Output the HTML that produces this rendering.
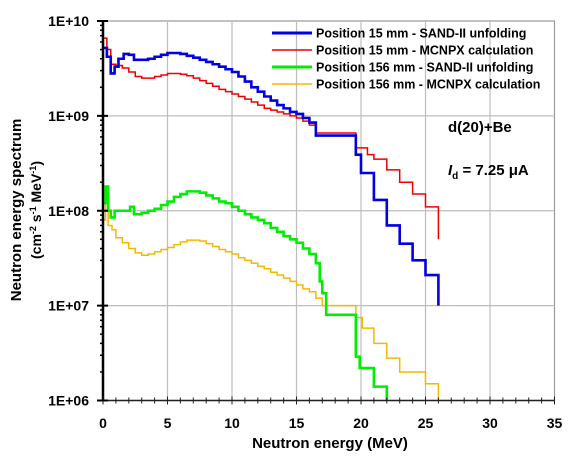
<!DOCTYPE html>
<html><head><meta charset="utf-8"><style>
html,body{margin:0;padding:0;background:#fff;}
svg{display:block;font-family:"Liberation Sans",sans-serif;font-weight:bold;}
</style></head><body>
<svg id="chart" width="574" height="462" viewBox="0 0 574 462">
<g id="grid"></g>
<g id="series"></g>
<g id="axes"></g>
<g font-size="12.5" fill="#000">
  <line x1="272" y1="33" x2="312" y2="33" stroke="#0000e0" stroke-width="3"/>
  <text x="316" y="37.5">Position 15 mm - SAND-II unfolding</text>
  <line x1="272" y1="50" x2="312" y2="50" stroke="#ee0000" stroke-width="1.5"/>
  <text x="316" y="54.5">Position 15 mm - MCNPX calculation</text>
  <line x1="272" y1="67" x2="312" y2="67" stroke="#00ee00" stroke-width="3"/>
  <text x="316" y="71.5">Position 156 mm - SAND-II unfolding</text>
  <line x1="272" y1="84" x2="312" y2="84" stroke="#f5b800" stroke-width="1.5"/>
  <text x="316" y="88.5">Position 156 mm - MCNPX calculation</text>
</g>
<text x="448" y="132" font-size="15">d(20)+Be</text>
<text x="448" y="175" font-size="15"><tspan font-style="italic">I</tspan><tspan font-size="10" dy="4">d</tspan><tspan dy="-4"> = 7.25 μA</tspan></text>
<text x="330" y="448" font-size="15" text-anchor="middle">Neutron energy  (MeV)</text>
<text transform="translate(21,210) rotate(-90)" font-size="15" text-anchor="middle">Neutron energy spectrum</text>
<text transform="translate(41,210) rotate(-90)" font-size="14" text-anchor="middle">(cm<tspan font-size="9" dy="-5">-2</tspan><tspan dy="5"> s</tspan><tspan font-size="9" dy="-5">-1</tspan><tspan dy="5"> MeV</tspan><tspan font-size="9" dy="-5">-1</tspan><tspan dy="5">)</tspan></text>
</svg>
<script>
const xTicks=[0,5,10,15,20,25,30,35];
const yTicks=[1e6,1e7,1e8,1e9,1e10];
const yTickLabels=["1E+06","1E+07","1E+08","1E+09","1E+10"];
const blueE=[0,0.3,0.6,0.9,1.2,1.6,2.0,2.4,3,3.5,4,4.5,5,6,6.5,7,7.5,8,8.5,9,9.5,10,10.5,11,11.5,12,12.5,13,13.5,14,14.5,15,15.5,16,16.5,19.6,20,21,22,23,24,25,26];
const blueV=[5.2e9,4.2e9,2.8e9,3.3e9,4.0e9,4.5e9,4.4e9,3.9e9,3.9e9,4.0e9,4.2e9,4.4e9,4.6e9,4.5e9,4.3e9,4.1e9,3.9e9,3.7e9,3.5e9,3.3e9,3.1e9,2.9e9,2.6e9,2.3e9,2.0e9,1.8e9,1.6e9,1.45e9,1.3e9,1.2e9,1.1e9,1.05e9,0.95e9,0.85e9,6.2e8,3.9e8,2.5e8,1.3e8,7e7,4.5e7,3e7,2.1e7,1e7];
const redE=[0,0.3,0.6,1,1.5,2,2.5,3,4,4.5,5,6,6.5,7,7.5,8,8.5,9,9.5,10,10.5,11,11.5,12,12.5,13,13.5,14,14.5,15,15.5,16,16.5,19.6,20.5,21,22,23,24,25,26];
const redV=[6.6e9,5e9,3.5e9,3.4e9,3.2e9,2.9e9,2.6e9,2.5e9,2.6e9,2.7e9,2.8e9,2.75e9,2.65e9,2.5e9,2.35e9,2.2e9,2.05e9,1.9e9,1.8e9,1.7e9,1.6e9,1.5e9,1.4e9,1.3e9,1.2e9,1.15e9,1.1e9,1.05e9,1.0e9,0.95e9,0.88e9,0.8e9,6.6e8,4.6e8,3.9e8,3.5e8,2.7e8,2.0e8,1.5e8,1.1e8,5e7];
const greenE=[0,0.2,0.4,0.6,0.9,1.5,2.1,2.4,3,3.5,4,4.5,5,5.5,6,6.5,7.5,8,8.5,9,9.5,10,10.5,11,11.5,12,12.5,13,13.5,14,14.5,15,15.5,16,16.5,16.8,17.0,17.3,19.6,19.9,21,22];
const greenV=[1.2e8,1.8e8,1.0e8,8.5e7,1.0e8,1.0e8,1.1e8,9.2e7,9.5e7,1.0e8,1.05e8,1.15e8,1.25e8,1.4e8,1.5e8,1.6e8,1.55e8,1.45e8,1.35e8,1.25e8,1.2e8,1.1e8,1.0e8,9.2e7,8.5e7,8e7,7.4e7,6.6e7,6e7,5.4e7,5e7,4.6e7,4e7,3.5e7,2.8e7,1.8e7,1.35e7,8e6,2.9e6,2.2e6,1.4e6,1e6];
const orangeE=[0,0.2,0.4,0.7,1,1.5,2,2.5,3,3.5,4,4.5,5,5.5,6,6.5,7.5,8,8.5,9,9.5,10,10.5,11,11.5,12,12.5,13,13.5,14,14.5,15,15.5,16,16.5,17,19.6,20.1,21,22,23,25,26];
const orangeV=[8e7,1.2e8,7e7,6.3e7,5.2e7,4.6e7,4e7,3.6e7,3.4e7,3.5e7,3.7e7,3.9e7,4.1e7,4.4e7,4.7e7,4.9e7,4.8e7,4.5e7,4.2e7,3.9e7,3.7e7,3.5e7,3.2e7,3e7,2.8e7,2.6e7,2.45e7,2.25e7,2.1e7,1.95e7,1.8e7,1.65e7,1.5e7,1.4e7,1.2e7,1.0e7,7.5e6,5.8e6,4e6,2.8e6,2.0e6,1.5e6,1e6];

const L=103,R=554.5,T=21,B=400.5;
const xs=e=>L+(e/35)*(R-L);
const ys=v=>{const lv=Math.max(Math.log10(v),6);return B-(lv-6)/4*(B-T);};
const NS="http://www.w3.org/2000/svg";
function mk(tag,attrs,parent){const el=document.createElementNS(NS,tag);for(const k in attrs)el.setAttribute(k,attrs[k]);parent.appendChild(el);return el;}
const grid=document.getElementById('grid'),axes=document.getElementById('axes'),ser=document.getElementById('series');
mk('rect',{x:L,y:T,width:R-L,height:B-T,fill:'none',stroke:'#9a9a9a','stroke-width':1.2},grid);
xTicks.forEach(t=>{if(t>0&&t<35){const l=mk('line',{x1:xs(t),x2:xs(t),y1:T,y2:B,stroke:'#bdbdbd','stroke-width':1.2},grid);

}});
yTicks.forEach(t=>{if(t>1e6&&t<1e10){const l=mk('line',{x1:L,x2:R,y1:ys(t),y2:ys(t),stroke:'#bdbdbd','stroke-width':1.2},grid);

}});
function step(E,V,color,w,name){let d='M'+xs(E[0])+','+ys(V[0]);for(let i=1;i<E.length;i++){d+=' H'+xs(E[i])+' V'+ys(V[i]);}
const p=mk('path',{d:d,fill:'none',stroke:color,'stroke-width':w,'stroke-linejoin':'miter'},ser);

}
step(orangeE,orangeV,'#f5b800',1.5,'series-156mm-mcnpx');
step(greenE,greenV,'#00ee00',2.6,'series-156mm-sand2');
step(redE,redV,'#ee0000',1.5,'series-15mm-mcnpx');
step(blueE,blueV,'#0000e0',2.6,'series-15mm-sand2');
mk('line',{x1:L,x2:L,y1:T-1,y2:B+1,stroke:'#000','stroke-width':2.5},axes);
mk('line',{x1:L,x2:R,y1:B,y2:B,stroke:'#222','stroke-width':1.5},axes);
for(let e=0;e<=35;e++){const big=e%5===0;mk('line',{x1:xs(e),x2:xs(e),y1:B-(big?4:3),y2:B+(big?4:3),stroke:'#222','stroke-width':1},axes);}
xTicks.forEach(t=>{const tx=mk('text',{x:xs(t),y:428,'font-size':14,'text-anchor':'middle'},axes);tx.textContent=t;

});
for(let d=6;d<10;d++){for(let m=2;m<10;m++){const y=ys(m*Math.pow(10,d));mk('line',{x1:L-3,x2:L+1,y1:y,y2:y,stroke:'#000','stroke-width':1.5},axes);}}
yTicks.forEach((t,i)=>{mk('line',{x1:L-6,x2:L+5,y1:ys(t),y2:ys(t),stroke:'#000','stroke-width':2},axes);
const tx=mk('text',{x:89,y:ys(t)+5,'font-size':14,'text-anchor':'end'},axes);tx.textContent=yTickLabels[i];

});
</script>
</body></html>
